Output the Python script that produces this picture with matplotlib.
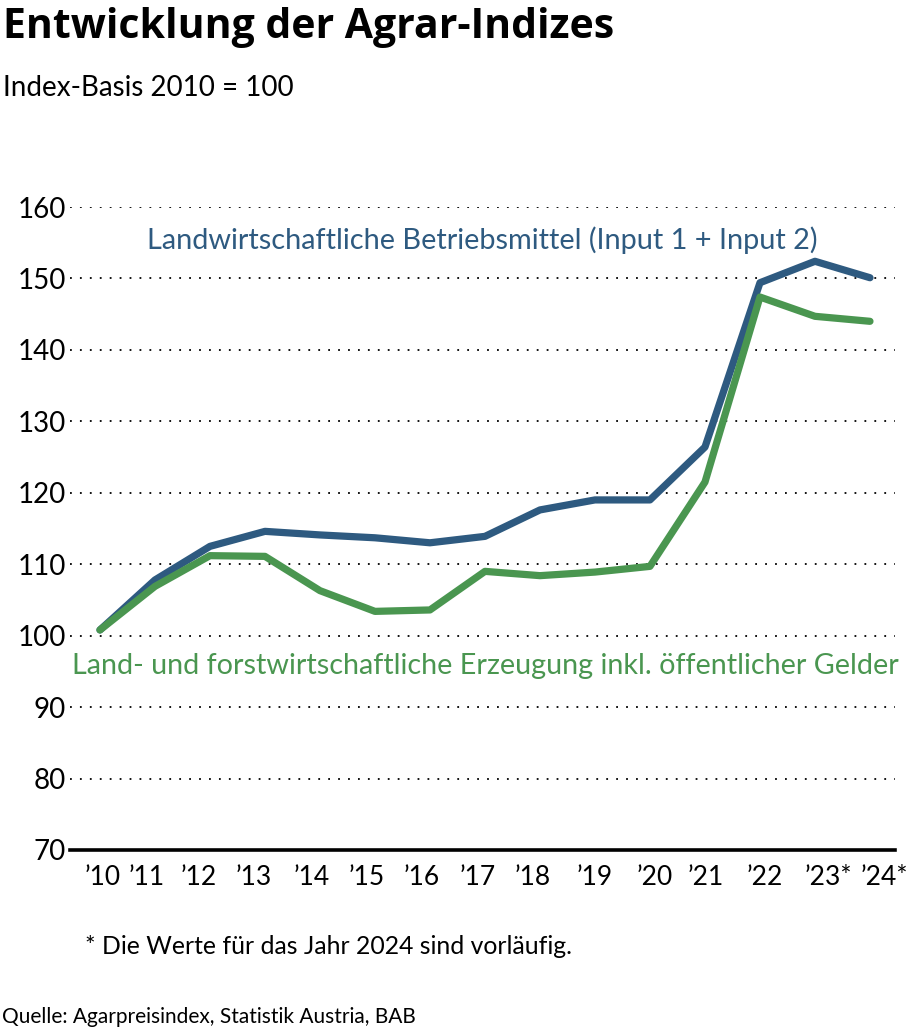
import matplotlib
matplotlib.use("Agg")
import matplotlib.pyplot as plt
import matplotlib.transforms as mtransforms

years = list(range(2010, 2025))
tick_labels = ["’10", "’11", "’12", "’13", "’14", "’15", "’16", "’17", "’18", "’19",
               "’20", "’21", "’22", "’23*", "’24*"]
input_idx = [100.8, 107.8, 112.5, 114.6, 114.1, 113.7, 113.0, 113.9, 117.6, 119.0,
             119.0, 126.4, 149.4, 152.4, 150.1]
output_idx = [100.8, 106.9, 111.2, 111.1, 106.3, 103.4, 103.6, 109.0, 108.4, 108.9,
              109.7, 121.5, 147.4, 144.7, 144.0]
y_ticks = [70, 80, 90, 100, 110, 120, 130, 140, 150, 160]
# horizontal nudges (px) of the year labels as placed in the original
label_nudge = [3, -8, -11, -11, -8, -8, -8, -7, -7, 0, 5, 1, 5, 13, 14]

BLUE = "#2e5a80"
GREEN = "#4a9650"
FONT = ["Lato", "DejaVu Sans"]
plt.rcParams["font.family"] = FONT

W, H = 913, 1029
fig = plt.figure(figsize=(W / 100, H / 100), dpi=100)
ax = fig.add_axes([70 / W, 1 - 850 / H, 825 / W, 643 / H])

ax.set_xlim(2009.455, 2024.455)
ax.set_ylim(70, 160)

ax.plot(years, input_idx, color=BLUE, lw=5.2, solid_capstyle="round", zorder=3)
ax.plot(years, output_idx, color=GREEN, lw=5.2, solid_capstyle="round", zorder=4)

for s in ["top", "right", "left"]:
    ax.spines[s].set_visible(False)
ax.spines["bottom"].set_linewidth(2.6)
ax.spines["bottom"].set_color("black")

ax.set_yticks(y_ticks)
ax.set_yticklabels([str(v) for v in y_ticks], fontsize=20)
ax.set_xticks(years)
ax.set_xticklabels(tick_labels, fontsize=19)
ax.tick_params(axis="both", length=0)
ax.tick_params(axis="y", pad=3)
ax.tick_params(axis="x", pad=11)

for lab, dx in zip(ax.get_xticklabels(), label_nudge):
    lab.set_transform(lab.get_transform() + mtransforms.ScaledTranslation(dx / 100, 0, fig.dpi_scale_trans))

for v in y_ticks[1:]:
    ax.axhline(v, color="black", lw=1.3, linestyle=(0, (1, 4.5)), zorder=1)

ax.text(0.5, (850 - 240) / 643, "Landwirtschaftliche Betriebsmittel (Input 1 + Input 2)",
        transform=ax.transAxes, color=BLUE, fontsize=20.8, ha="center", va="center")
ax.text(1.004, (850 - 666) / 643, "Land- und forstwirtschaftliche Erzeugung inkl. öffentlicher Gelder",
        transform=ax.transAxes, color=GREEN, fontsize=20.7, ha="right", va="center")

fig.text(3 / W, 1 - 28 / H, "Entwicklung der Agrar-Indizes", fontsize=29.5, fontweight="bold",
         family=["Open Sans", "DejaVu Sans"], ha="left", va="center")
fig.text(3 / W, 1 - 88 / H, "Index-Basis 2010 = 100", fontsize=20, ha="left", va="center")
fig.text(85 / W, 1 - 946 / H, "* Die Werte für das Jahr 2024 sind vorläufig.", fontsize=17.8,
         ha="left", va="center")
fig.text(2 / W, 1 - 1017 / H, "Quelle: Agarpreisindex, Statistik Austria, BAB", fontsize=15,
         ha="left", va="center")

fig.savefig("out.png", dpi=100)
